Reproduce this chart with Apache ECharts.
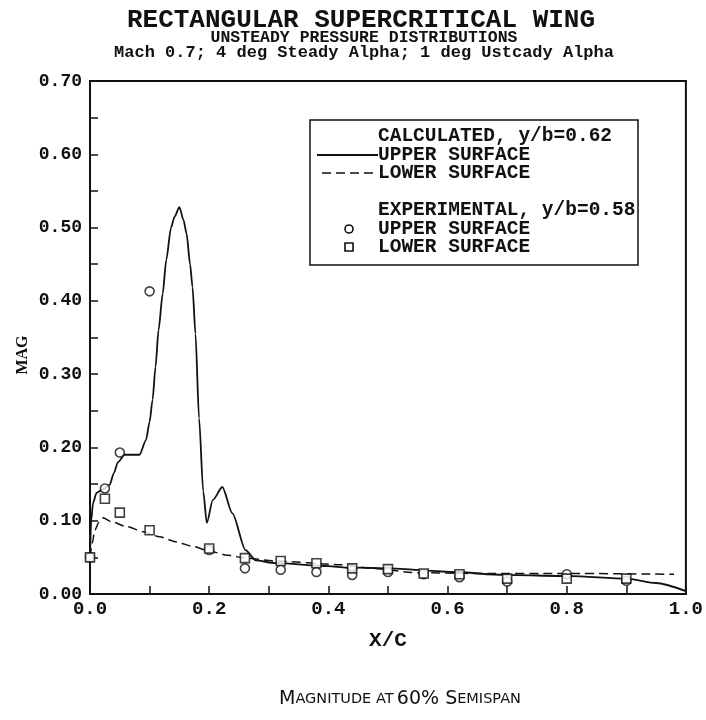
<!DOCTYPE html>
<html>
<head>
<meta charset="utf-8">
<script src="https://cdn.jsdelivr.net/npm/echarts@6/dist/echarts.min.js"></script>
<style>
  html, body { margin: 0; padding: 0; background: #fff; }
  #chart { width: 706px; height: 720px; }
</style>
</head>
<body>
<div id="chart"></div>
<script>
// Calculated pressure magnitude, y/b = 0.62 : [x/c, MAG]
const calcUpper = [
  [0.000, 0.050], [0.002, 0.100], [0.005, 0.124], [0.011, 0.138], [0.022, 0.143],
  [0.033, 0.149], [0.040, 0.165], [0.047, 0.180], [0.058, 0.190], [0.070, 0.190],
  [0.083, 0.190], [0.094, 0.210], [0.100, 0.235], [0.105, 0.265], [0.110, 0.310],
  [0.115, 0.360], [0.122, 0.410], [0.128, 0.456], [0.136, 0.500], [0.142, 0.515],
  [0.150, 0.528], [0.157, 0.510], [0.162, 0.492], [0.168, 0.450], [0.172, 0.419],
  [0.177, 0.355], [0.183, 0.240], [0.190, 0.140], [0.196, 0.097], [0.206, 0.128],
  [0.222, 0.146], [0.239, 0.110], [0.261, 0.060], [0.278, 0.046], [0.311, 0.042],
  [0.400, 0.038], [0.430, 0.036], [0.440, 0.030], [0.450, 0.036], [0.500, 0.035],
  [0.611, 0.030], [0.694, 0.026], [0.806, 0.0245], [0.900, 0.021], [0.950, 0.015],
  [1.000, 0.004]
];
const calcLower = [
  [0.000, 0.050], [0.004, 0.070], [0.008, 0.087], [0.015, 0.098], [0.022, 0.104],
  [0.035, 0.099], [0.061, 0.092], [0.090, 0.085], [0.117, 0.078], [0.145, 0.071],
  [0.172, 0.065], [0.203, 0.058], [0.230, 0.053], [0.261, 0.049], [0.311, 0.045],
  [0.422, 0.040], [0.472, 0.035], [0.550, 0.029], [0.650, 0.028], [0.800, 0.028],
  [0.980, 0.027]
];

// Experimental pressure magnitude, y/b = 0.58
const expX     = [0.00, 0.025, 0.05, 0.10, 0.20, 0.26, 0.32, 0.38, 0.44, 0.50, 0.56, 0.62, 0.70, 0.80, 0.90];
const expUpper = [0.050, 0.144, 0.193, 0.413, 0.060, 0.035, 0.033, 0.030, 0.026, 0.030, 0.027, 0.023, 0.017, 0.027, 0.018];
const expLower = [0.050, 0.130, 0.111, 0.087, 0.062, 0.049, 0.045, 0.042, 0.035, 0.034, 0.028, 0.027, 0.021, 0.021, 0.021];

const xTicks = [0.0, 0.2, 0.4, 0.6, 0.8, 1.0];
const yTicks = [0.0, 0.1, 0.2, 0.3, 0.4, 0.5, 0.6, 0.7];

const MONO = '"Liberation Mono", "DejaVu Sans Mono", monospace';
const SERIF = '"Liberation Serif", "DejaVu Serif", serif';
const INK = '#111';

const pair = (xs, ys) => xs.map((x, i) => [x, ys[i]]);

const chart = echarts.init(document.getElementById('chart'), null, { renderer: 'canvas' });

// legend block drawn as a framed panel inside the plot
const legendX = 310, legendY = 120, legendW = 328, legendH = 145;
const textX = 378;
const legendRows = [
  { y: 136, text: 'CALCULATED, y/b=0.62' },
  { y: 155, text: 'UPPER SURFACE' },
  { y: 173, text: 'LOWER SURFACE' },
  { y: 210, text: 'EXPERIMENTAL, y/b=0.58' },
  { y: 229, text: 'UPPER SURFACE' },
  { y: 247, text: 'LOWER SURFACE' }
];
const legendFont = 'bold 19.5px ' + MONO;

const graphics = [
  // titles
  { type: 'text', style: { x: 361, y: 20, text: 'RECTANGULAR SUPERCRITICAL WING', font: 'bold 26px ' + MONO, fill: INK, textAlign: 'center', textVerticalAlign: 'middle' } },
  { type: 'text', style: { x: 364, y: 38, text: 'UNSTEADY PRESSURE DISTRIBUTIONS', font: 'bold 16.5px ' + MONO, fill: INK, textAlign: 'center', textVerticalAlign: 'middle' } },
  { type: 'text', style: { x: 364, y: 52.5, text: 'Mach 0.7; 4 deg Steady Alpha; 1 deg Ustcady Alpha', font: 'bold 17px ' + MONO, fill: INK, textAlign: 'center', textVerticalAlign: 'middle' } },
  // y-axis title
  { type: 'text', x: 23, y: 355, rotation: Math.PI / 2, style: { x: 0, y: 0, text: 'MAG', font: 'bold 16px ' + SERIF, fill: INK, textAlign: 'center', textVerticalAlign: 'middle' } },
  // caption
  { type: 'text', style: { x: 400, y: 699, text: '{b|M}{s|AGNITUDE AT} {b|60% S}{s|EMISPAN}', textAlign: 'center', textVerticalAlign: 'middle',
      rich: {
        b: { font: '19px "DejaVu Sans", sans-serif', fill: INK },
        s: { font: '14.5px "DejaVu Sans", sans-serif', fill: INK }
      } } },
  // legend frame
  { type: 'rect', shape: { x: legendX, y: legendY, width: legendW, height: legendH }, style: { fill: '#fff', stroke: INK, lineWidth: 1.5 }, z: 10 },
  { type: 'line', shape: { x1: 317, y1: 155, x2: 378, y2: 155 }, style: { stroke: INK, lineWidth: 1.8 }, z: 11 },
  { type: 'line', shape: { x1: 322, y1: 173, x2: 378, y2: 173 }, style: { stroke: INK, lineWidth: 1.5, lineDash: [9, 5] }, z: 11 },
  { type: 'circle', shape: { cx: 349, cy: 229, r: 4 }, style: { fill: '#fff', stroke: INK, lineWidth: 1.6 }, z: 11 },
  { type: 'rect', shape: { x: 345, y: 243, width: 8, height: 8 }, style: { fill: '#fff', stroke: INK, lineWidth: 1.6 }, z: 11 }
];
legendRows.forEach(r => graphics.push({
  type: 'text', z: 11,
  style: { x: textX, y: r.y, text: r.text, font: legendFont, fill: INK, textAlign: 'left', textVerticalAlign: 'middle' }
}));

const option = {
  backgroundColor: '#fff',
  animation: false,
  grid: { left: 90, right: 17, top: 81, bottom: 126, show: true, borderColor: INK, borderWidth: 2, backgroundColor: 'transparent' },
  xAxis: {
    type: 'value', min: 0, max: 1, interval: 0.2,
    name: 'X/C', nameLocation: 'middle', nameGap: 36,
    nameTextStyle: { fontFamily: MONO, fontWeight: 'bold', fontSize: 21, color: INK },
    axisLine: { show: true, onZero: false, lineStyle: { color: INK, width: 2 } },
    axisTick: { show: true, inside: true, length: 8, lineStyle: { color: INK, width: 1.5 } },
    minorTick: { show: true, splitNumber: 2, length: 8, lineStyle: { color: INK, width: 1.5 } },
    splitLine: { show: false },
    axisLabel: {
      margin: 6, fontFamily: MONO, fontWeight: 'bold', fontSize: 19, color: INK,
      formatter: v => {
        const t = xTicks.find(k => Math.abs(k - v) < 1e-6);
        return t === undefined ? '' : t.toFixed(1);
      }
    }
  },
  yAxis: {
    type: 'value', min: 0, max: 0.7, interval: 0.1,
    axisLine: { show: true, onZero: false, lineStyle: { color: INK, width: 2 } },
    axisTick: { show: true, inside: true, length: 8, lineStyle: { color: INK, width: 1.5 } },
    minorTick: { show: true, splitNumber: 2, length: 8, lineStyle: { color: INK, width: 1.5 } },
    splitLine: { show: false },
    axisLabel: {
      margin: 8, fontFamily: MONO, fontWeight: 'bold', fontSize: 18, color: INK,
      formatter: v => {
        const t = yTicks.find(k => Math.abs(k - v) < 1e-6);
        return t === undefined ? '' : t.toFixed(2);
      }
    }
  },
  graphic: graphics,
  series: [
    {
      name: 'Calculated upper surface', type: 'line', data: calcUpper,
      showSymbol: false, smooth: 0.25, smoothMonotone: 'x',
      lineStyle: { color: INK, width: 1.8 }, z: 3
    },
    {
      name: 'Calculated lower surface', type: 'line', data: calcLower,
      showSymbol: false, smooth: 0.25, smoothMonotone: 'x',
      lineStyle: { color: INK, width: 1.5, type: [9, 5] }, z: 3
    },
    {
      name: 'Experimental upper surface', type: 'scatter', data: pair(expX, expUpper),
      symbol: 'circle', symbolSize: 9,
      itemStyle: { color: '#fff', borderColor: INK, borderWidth: 1.6 }, z: 4
    },
    {
      name: 'Experimental lower surface', type: 'scatter', data: pair(expX, expLower),
      symbol: 'rect', symbolSize: 9,
      itemStyle: { color: '#fff', borderColor: INK, borderWidth: 1.6 }, z: 4
    }
  ]
};

chart.setOption(option);
</script>
</body>
</html>
